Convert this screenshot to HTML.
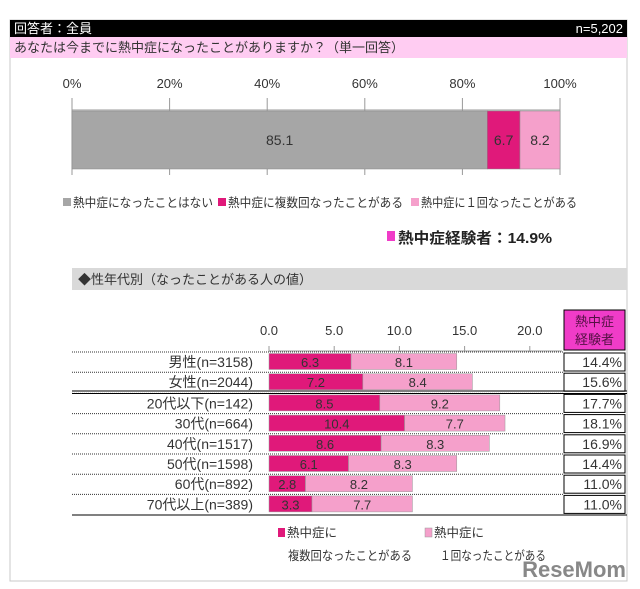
<!DOCTYPE html>
<html><head><meta charset="utf-8"><style>
body{margin:0;background:#fff;}
svg{display:block;font-family:"Liberation Sans","Noto Sans CJK JP",sans-serif;}
</style></head><body>
<svg id="c" width="640" height="589" viewBox="0 0 640 589" xmlns="http://www.w3.org/2000/svg">
<rect x="10" y="20" width="617" height="561" fill="#fff" stroke="#c8c8c8"/>
<rect x="10" y="20" width="617" height="17" fill="#000"/>
<text x="14" y="33" fill="#fff" font-size="13">回答者：全員</text>
<text x="623" y="33" fill="#fff" font-size="13" text-anchor="end">n=5,202</text>
<rect x="10" y="37" width="617" height="21" fill="#ffccf2"/>
<text x="14" y="52" fill="#333" font-size="13">あなたは今までに熱中症になったことがありますか？（単一回答）</text>
<g id="topG"></g>
<g>
<rect x="63" y="198" width="8" height="8" fill="#a6a6a6"/>
<text x="73" y="207" font-size="12.5" fill="#333" textLength="140" lengthAdjust="spacingAndGlyphs">熱中症になったことはない</text>
<rect x="218" y="198" width="8" height="8" fill="#e0197a"/>
<text x="228" y="207" font-size="12.5" fill="#333" textLength="175" lengthAdjust="spacingAndGlyphs">熱中症に複数回なったことがある</text>
<rect x="411" y="198" width="8" height="8" fill="#f5a0cb"/>
<text x="421" y="207" font-size="12.5" fill="#333" textLength="156" lengthAdjust="spacingAndGlyphs">熱中症に１回なったことがある</text>
</g>
<rect x="387" y="231" width="8" height="10" fill="#f03cc8"/>
<text x="398" y="243" font-size="15" font-weight="bold" fill="#222" textLength="154" lengthAdjust="spacingAndGlyphs">熱中症経験者：14.9%</text>
<rect x="72" y="268" width="555" height="22" fill="#d9d9d9"/>
<text x="78" y="284" font-size="13" fill="#333">◆性年代別（なったことがある人の値）</text>
<g id="botG"></g>
<rect x="564" y="310" width="61" height="40" fill="#f03cc8" stroke="#000"/>
<text x="594.5" y="326" font-size="13" fill="#551044" text-anchor="middle">熱中症</text>
<text x="594.5" y="344" font-size="13" fill="#551044" text-anchor="middle">経験者</text>
<g>
<rect x="278" y="528" width="7" height="9" fill="#e0197a"/>
<text x="287" y="537" font-size="12.5" fill="#333">熱中症に</text>
<text x="288" y="560" font-size="12.5" fill="#333" textLength="124" lengthAdjust="spacingAndGlyphs">複数回なったことがある</text>
<rect x="425" y="528" width="7" height="9" fill="#f5a0cb" stroke="#999" stroke-width="0.5"/>
<text x="434" y="537" font-size="12.5" fill="#333">熱中症に</text>
<text x="440" y="560" font-size="12.5" fill="#333" textLength="106" lengthAdjust="spacingAndGlyphs">１回なったことがある</text>
</g>
<text x="626" y="577" font-size="22" font-weight="bold" fill="#888" text-anchor="end">ReseMom</text>
</svg>
<script>
const topValues=[85.1,6.7,8.2];
const topColors=['#a6a6a6','#e0197a','#f5a0cb'];
const topTicks=[0,20,40,60,80,100];
const groups=['男性(n=3158)','女性(n=2044)','20代以下(n=142)','30代(n=664)','40代(n=1517)','50代(n=1598)','60代(n=892)','70代以上(n=389)'];
const multiple=[6.3,7.2,8.5,10.4,8.6,6.1,2.8,3.3];
const once=[8.1,8.4,9.2,7.7,8.3,8.3,8.2,7.7];
const totals=['14.4%','15.6%','17.7%','18.1%','16.9%','14.4%','11.0%','11.0%'];
const botTicks=[0,5,10,15,20];
const NS='http://www.w3.org/2000/svg';
function mk(p,t,a,txt){const e=document.createElementNS(NS,t);for(const k in a)e.setAttribute(k,a[k]);if(txt!=null)e.textContent=txt;p.appendChild(e);return e;}
const topG=document.getElementById('topG');
const tx=v=>72+v*4.88;
topTicks.forEach(t=>{
 const l=mk(topG,'text',{x:tx(t),y:88,'font-size':13,fill:'#333','text-anchor':'middle'},t+'%');
 
 
 const k=mk(topG,'line',{x1:tx(t),x2:tx(t),y1:98,y2:175,stroke:'#999'});
 
 
});
mk(topG,'line',{x1:72,x2:560,y1:110,y2:110,stroke:'#999'});
let acc=0;
topValues.forEach((v,i)=>{
 const r=mk(topG,'rect',{x:tx(acc),y:111,width:v*4.88,height:58,fill:topColors[i],stroke:'#888','stroke-width':0.5});
 
 
 const t=mk(topG,'text',{x:tx(acc+v/2),y:145,'font-size':14,fill:'#333','text-anchor':'middle'},v.toFixed(1));
 
 
 acc+=v;
});
const botG=document.getElementById('botG');
const bx=v=>269+v*13.04;
botTicks.forEach(t=>{
 const l=mk(botG,'text',{x:bx(t),y:335,'font-size':13,fill:'#333','text-anchor':'middle'},t.toFixed(1));
 
 
 mk(botG,'line',{x1:bx(t),x2:bx(t),y1:346,y2:352,stroke:'#999'});
});
mk(botG,'line',{x1:269,x2:562,y1:351,y2:351,stroke:'#999'});
const rowY=i=>352+i*20.2+(i>=2?1:0);
groups.forEach((g,i)=>{
 const y=rowY(i);
 mk(botG,'line',{x1:72,x2:564,y1:y,y2:y,stroke:'#333','stroke-dasharray':'1 1'});
 const lb=mk(botG,'text',{x:253,y:y+15,'font-size':14,fill:'#333','text-anchor':'end'},g);
 
 
 const a=mk(botG,'rect',{x:bx(0),y:y+1.5,width:multiple[i]*13.04,height:16,fill:'#e0197a',stroke:'#999','stroke-width':0.5});
 
 
 const b=mk(botG,'rect',{x:bx(multiple[i]),y:y+1.5,width:once[i]*13.04,height:16,fill:'#f5a0cb',stroke:'#999','stroke-width':0.5});
 
 
 const ta=mk(botG,'text',{x:bx(multiple[i]/2),y:y+15,'font-size':13,fill:'#333','text-anchor':'middle'},multiple[i].toFixed(1));
 
 
 const tb=mk(botG,'text',{x:bx(multiple[i]+once[i]/2),y:y+15,'font-size':13,fill:'#333','text-anchor':'middle'},once[i].toFixed(1));
 
 
 const c=mk(botG,'rect',{x:564,y:y+1,width:61,height:18,fill:'#fff',stroke:'#000'});
 
 
 const ct=mk(botG,'text',{x:622,y:y+15,'font-size':14,fill:'#333','text-anchor':'end'},totals[i]);
 
 
});
mk(botG,'line',{x1:72,x2:627,y1:391,y2:391,stroke:'#000'});
mk(botG,'line',{x1:72,x2:627,y1:393.5,y2:393.5,stroke:'#000'});
mk(botG,'line',{x1:72,x2:627,y1:515,y2:515,stroke:'#000'});
</script>
</body></html>
